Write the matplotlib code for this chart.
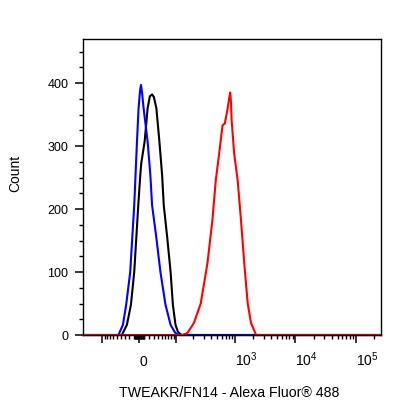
import numpy as np
import matplotlib
matplotlib.use('Agg')
import matplotlib.pyplot as plt

plt.rcParams['font.family'] = ['Liberation Sans', 'DejaVu Sans']
plt.rcParams['mathtext.fontset'] = 'custom'
plt.rcParams['mathtext.rm'] = 'Liberation Sans'
plt.rcParams['mathtext.it'] = 'Liberation Sans:italic'
plt.rcParams['mathtext.bf'] = 'Liberation Sans:bold'

# fluorescence values and counts
blue_x = [-220, -46, -34.8, -27.2, -18.4, -10.1, -4.6, -1.4, 1.5, 3.4, 5.5, 8.65, 16.9, 22.7, 26.5, 36.5, 46.8, 61.3, 78.2, 95, 110, 262144]
blue_y = [0, 0, 16, 48, 100, 206, 307, 360, 388, 397, 385, 360, 307, 254, 206, 154, 100, 48, 16, 4, 0, 0]

black_x = [-220, -37.3, -25.6, -16.9, -10.1, -2.0, 2.0, 4.0, 10.7, 16.9, 21.6, 26.5, 30.5, 36.5, 44.1, 51.4, 56.1, 66.9, 78.2, 86.7, 97.3, 108, 125, 262144]
black_y = [0, 0, 16, 48, 100, 206, 254, 273, 307, 360, 379, 382, 378, 360, 307, 254, 206, 154, 100, 48, 16, 5, 0, 0]

red_x = [-220, 129, 159, 206, 269, 349, 423, 481, 547, 623, 680, 749, 800, 834, 860, 881, 972, 1108, 1258, 1428, 1628, 1848, 2239, 262144]
red_y = [0, 0, 3, 19, 50, 114, 183, 246, 288, 333, 336, 357, 375, 385, 370, 341, 288, 246, 183, 114, 50, 19, 0, 0]

major_ticks = [-100, 0, 100, 1000, 10000, 100000]
major_labels = ['', '0', '', r'$\mathregular{10^{3}}$', r'$\mathregular{10^{4}}$', r'$\mathregular{10^{5}}$']

W = 52.2
def fwd(x):
    return np.arcsinh(np.asarray(x, dtype=float) / W)
def inv(y):
    return W * np.sinh(np.asarray(y, dtype=float))

fig = plt.figure(figsize=(4.16, 4.16), dpi=100)
ax = fig.add_axes([83/416, 1-335/416, 298/416, 296/416])
ax.set_xscale('function', functions=(fwd, inv))

ax.plot(black_x, black_y, color='black', lw=1.5, clip_on=False)
ax.plot(blue_x, blue_y, color='#0000ff', lw=1.5, clip_on=False)
ax.plot(red_x, red_y, color='#ff0000', lw=1.5, clip_on=False)

ax.set_xlim(-220, 262144)
ax.set_ylim(0, 470)

minor = list(range(-90, 0, 10)) + list(range(-9, 10)) + list(range(10, 100, 10))
for d in [100, 1000, 10000, 100000]:
    minor += [k * d for k in range(2, 10)]
minor = [m for m in minor if m not in major_ticks and m < 262144]
ax.set_xticks(major_ticks)
ax.set_xticklabels(major_labels)
ax.set_xticks(minor, minor=True)
ax.set_yticks([0, 100, 200, 300, 400])
ax.set_yticks(np.arange(25, 470, 25), minor=True)

ax.tick_params(axis='both', which='major', length=5.5, width=1.1, color='black', labelsize=9)
ax.tick_params(axis='both', which='minor', length=3, width=1.0, color='black')
ax.tick_params(axis='y', which='major', pad=5)
ax.tick_params(axis='x', which='major', pad=17, labelsize=10)
for lbl in ax.get_xticklabels():
    lbl.set_va('baseline')
    lbl.set_ha('left')

for s in ax.spines.values():
    s.set_linewidth(1.0)

fig.text(15/416, 1-173/416, 'Count', rotation=90, ha='center', va='center', fontsize=10)
fig.text(229/416, 1-393/416, 'TWEAKR/FN14 - Alexa Fluor® 488', ha='center', va='center', fontsize=10.2)

plt.savefig('out.png', dpi=100)
